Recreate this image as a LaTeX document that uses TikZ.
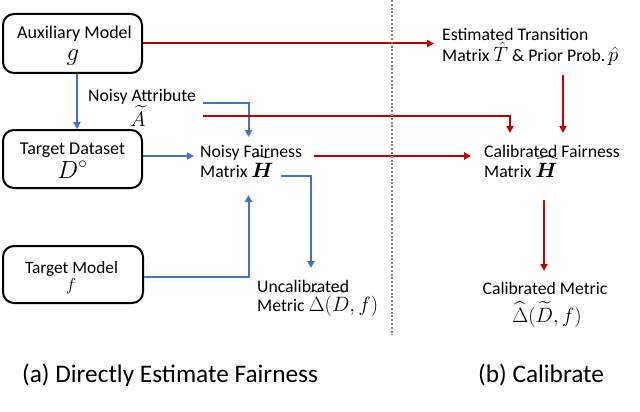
\documentclass[tikz,border=0pt]{standalone}
\usepackage{amsmath}
\usepackage{bm}
\usepackage{fontspec}
\setmainfont{Carlito}
\usetikzlibrary{arrows.meta}
\definecolor{myblue}{RGB}{68,114,196}
\definecolor{myred}{RGB}{192,0,0}
\definecolor{divgray}{RGB}{128,128,128}
\newcommand\mth[1]{{\fontsize{19.5}{22}\selectfont$#1$}}
\begin{document}
\begin{tikzpicture}[x=1pt,y=-1pt,
  box/.style={draw=black,line width=2pt,rounded corners=11pt,inner sep=0pt},
  lbl/.style={inner sep=0pt,anchor=base west,font=\fontsize{17.7}{20}\selectfont},
  lblc/.style={lbl,anchor=base},
  bigm/.style={inner sep=0pt,anchor=base,font=\fontsize{24}{26}\selectfont},
  captext/.style={inner sep=0pt,anchor=base west,font=\fontsize{25.3}{28}\selectfont},
  bl/.style={draw=myblue,line width=2pt,-{Triangle[length=7pt,width=7pt]}},
  rd/.style={draw=myred,line width=2pt,-{Triangle[length=7pt,width=7pt]}}]
\useasboundingbox (0,0) rectangle (640,412);

% boxes
\node[box,minimum width=139pt,minimum height=59pt] (aux) at (72.5,43.5) {};
\node[box,minimum width=139pt,minimum height=58pt] (tds) at (72.5,159) {};
\node[box,minimum width=140pt,minimum height=57pt] (tm) at (73,274.5) {};

% box labels
\node[lblc,font=\fontsize{18}{20}\selectfont] (auxa) at (74.5,39) {Auxiliary Model};
\node[bigm] (auxb) at (73,60) {$g$};
\node[lblc,font=\fontsize{18}{20}\selectfont] (tdsa) at (72.5,154) {Target Dataset};
\node[bigm] (tdsb) at (72.5,178) {$D^{\circ}$};
\node[lblc,font=\fontsize{17.3}{20}\selectfont] (tma) at (71.5,273) {Target Model};
\node[lblc,font=\fontsize{18}{20}\selectfont] (tmb) at (71,290) {$f$};

% text labels
\node[lbl] (naa) at (88,102) {Noisy Attribute};
\node[lblc] (nab) at (138,126) {\mth{\widetilde{A}}};
\node[lbl] (nfa) at (200,157) {Noisy Fairness};
\node[lbl] (nfb) at (200,177) {Matrix \mth{\widetilde{\bm{H}}}};
\node[lbl] (uca) at (257,292) {Uncalibrated};
\node[lbl] (ucb) at (257,311) {Metric \mth{\widetilde{\Delta}(\widetilde{D},f)}};
\node[lbl] (esa) at (442,41) {Estimated Transition};
\node[lbl] (esb) at (442,62) {Matrix \mth{\hat{T}} \& Prior Prob.\,\mth{\hat{p}}};
\node[lbl] (cfa) at (484,157) {Calibrated Fairness};
\node[lbl] (cfb) at (484,177) {Matrix \mth{\widehat{\bm{H}}}};
\node[lblc] (cma) at (545,294) {Calibrated Metric};
\node[lblc] (cmb) at (547,322) {\mth{\widehat{\Delta}(\widetilde{D},f)}};

% captions
\node[captext] (capa) at (22,382) {(a) Directly Estimate Fairness};
\node[captext] (capb) at (478,382) {(b) Calibrate};

% connector coordinates
\coordinate (naout) at (203,102.5);
\coordinate (nfinA) at (248.5,137);
\coordinate (naoutR) at (203,115.5);
\coordinate (cfinA) at (510,133);
\coordinate (nfinL) at (194,156);
\coordinate (nfinB) at (248.5,195);
\coordinate (hout) at (281,175.5);
\coordinate (ucin) at (311,268);
\coordinate (nfout) at (314,156);
\coordinate (cfinL) at (471,156);
\coordinate (esin) at (434,43.5);
\coordinate (esout) at (563,75);
\coordinate (cfinB) at (563,133);
\coordinate (cfout) at (544,200);
\coordinate (cmin) at (544,271);

% blue connectors
\draw[bl] ([xshift=4.5pt]aux.south) -- ([xshift=4.5pt]tds.north);
\draw[bl] (tds.east |- nfinL) -- (nfinL);
\draw[bl] (naout) -| (nfinA);
\draw[bl] ([yshift=-2.5pt]tm.east) -| (nfinB);
\draw[bl] (hout) -| (ucin);

% red connectors
\draw[rd] (aux.east) -- (esin);
\draw[rd] (naoutR) -| (cfinA);
\draw[rd] (nfout) -- (cfinL);
\draw[rd] (esout) -- (cfinB);
\draw[rd] (cfout) -- (cmin);

% divider
\draw[divgray,line width=2.2pt,dash pattern=on 2pt off 1.8pt] (392,0) -- (392,335);
\end{tikzpicture}
\end{document}
